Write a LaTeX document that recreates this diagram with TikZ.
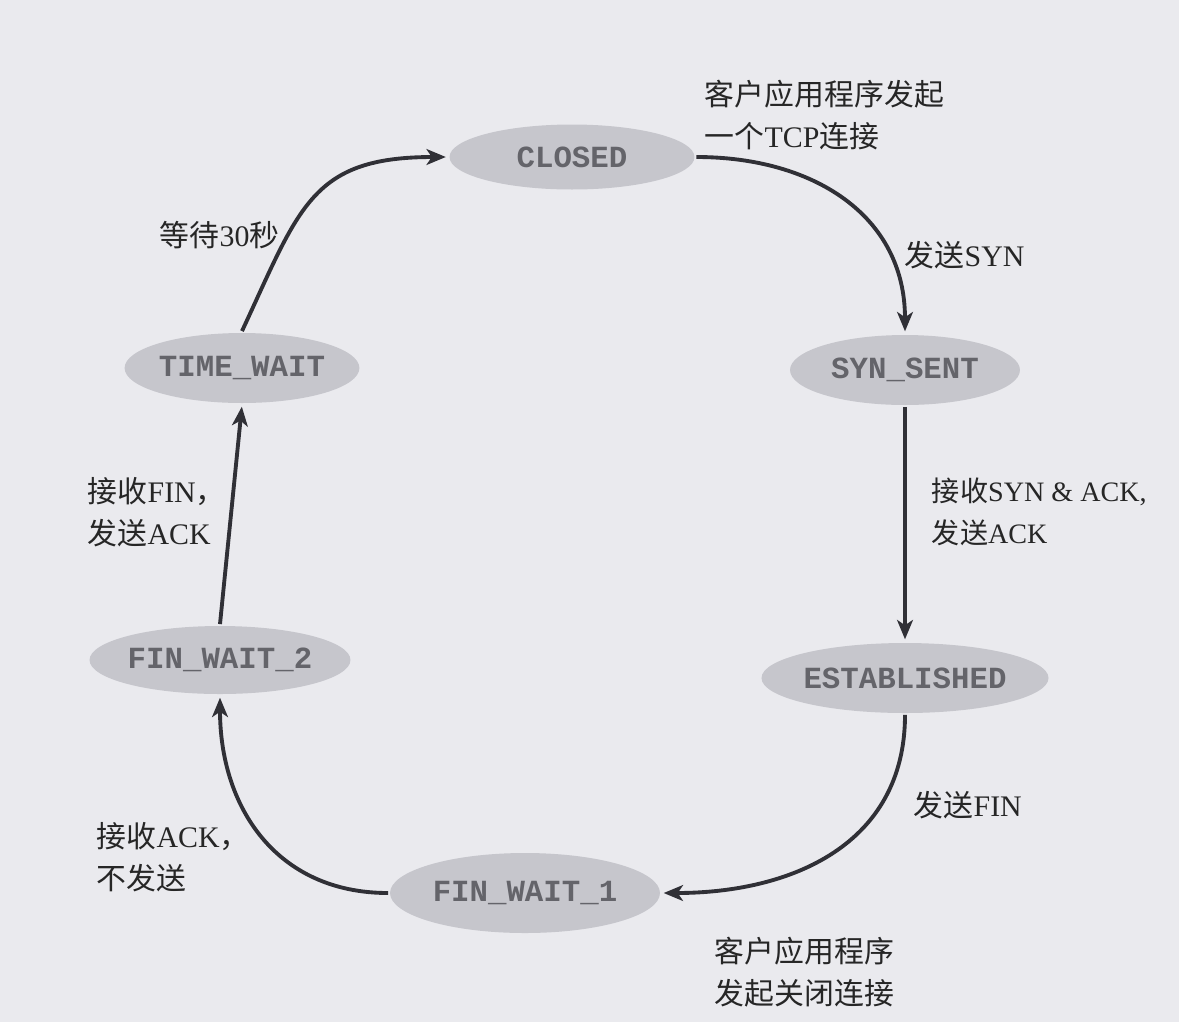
\documentclass[tikz,border=0pt]{standalone}
\usepackage{fontspec}
\setmainfont{Liberation Serif}
\setmonofont{Liberation Mono}
\newfontfamily\cjk{Noto Sans CJK SC}
\newcommand{\zh}[1]{{\cjk #1}}
\usetikzlibrary{arrows.meta,shapes.geometric}
\definecolor{paper}{RGB}{234,234,238}
\definecolor{stategray}{RGB}{198,198,204}
\definecolor{statetext}{RGB}{100,100,106}
\definecolor{linegray}{RGB}{48,48,54}

\begin{document}
\begin{tikzpicture}[x=0.02cm,y=-0.02cm,->,>={Stealth[length=11pt,width=9pt,inset=3pt]},shorten >=1pt,line width=2.2pt,
  state node/.style={ellipse,fill=stategray,text=statetext,inner sep=0pt,font=\ttfamily\bfseries\fontsize{17.5}{20}\selectfont},
  note/.style={anchor=west,align=left,inner sep=0pt,text=black!85,font=\fontsize{17}{24}\selectfont}]
      \fill[-,paper] (0,0) rectangle (1179,1022);
      \useasboundingbox (0,0) rectangle (1179,1022);

      \node[state node,minimum width=4.9cm,minimum height=1.3cm] (closed) at (572,157) {CLOSED};
      \node[state node,minimum width=4.6cm,minimum height=1.4cm] (synsent) at (905,370) {SYN\_SENT};
      \node[state node,minimum width=4.8cm,minimum height=1.4cm] (established) at (905,678) {ESTABLISHED};
      \node[state node,minimum width=5.4cm,minimum height=1.6cm] (finwaita) at (525,893) {FIN\_WAIT\_1};
      \node[state node,minimum width=4.5cm,minimum height=1.36cm] (finwaitb) at (220,660) {FIN\_WAIT\_2};
      \node[state node,minimum width=4.3cm,minimum height=1.4cm] (timewait) at (242,368) {TIME\_WAIT};

      \node[note] (lconnect) at (703,115) {\zh{客户应用程序发起}\\\zh{一个}TCP\zh{连接}};
      \node[note] (lsyn) at (903,255) {\zh{发送}SYN};
      \node[note,font=\fontsize{16}{24}\selectfont] (lsynack) at (930,512) {\zh{接收}SYN \& ACK,\\\zh{发送}ACK};
      \node[note] (lfin) at (912,805) {\zh{发送}FIN};
      \node[note] (lclose) at (713,972) {\zh{客户应用程序}\\\zh{发起关闭连接}};
      \node[note] (lack) at (95,857) {\zh{接收}ACK\zh{，}\\\zh{不发送}};
      \node[note] (lfinack) at (86,512) {\zh{接收}FIN\zh{，}\\\zh{发送}ACK};
      \node[note] (lwait) at (158,235) {\zh{等待}30\zh{秒}};

      \path[linegray]
        (closed.east) edge[out=0,in=90,looseness=1.1] (synsent.north)
        (synsent.south) edge (established.north)
        (established.south) edge[out=-90,in=0,looseness=1.1] (finwaita.east)
        (finwaita.west) edge[out=180,in=-90,looseness=1.1] (finwaitb.south)
        (finwaitb.north) edge (timewait.south)
        (timewait.north) edge[out=65,in=180,looseness=1.3] (closed.west);

    \end{tikzpicture}
\end{document}
